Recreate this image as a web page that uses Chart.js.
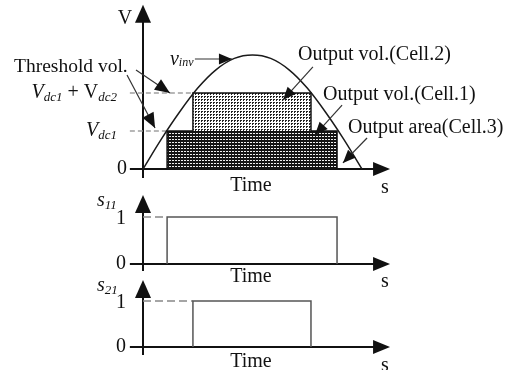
<!DOCTYPE html>
<html>
<head>
<meta charset="utf-8">
<script src="https://cdn.jsdelivr.net/npm/chart.js@4"></script>
<style>
  html, body { margin: 0; padding: 0; background: #fff; }
  #wrap { width: 508px; height: 370px; }
</style>
</head>
<body>
<div id="wrap"><canvas id="chart" width="508" height="370"></canvas></div>
<script>
/* ---------- data (time normalised to one half period) ---------- */

const VINV_TIME = [0, 0.083, 0.167, 0.25, 0.333, 0.417, 0.5, 0.583, 0.667, 0.75, 0.833, 0.917, 1];
const VINV = [0, 0.26, 0.5, 0.71, 0.87, 0.97, 1, 0.97, 0.87, 0.71, 0.5, 0.26, 0];

const VDC1 = 0.333;
const VDC1_VDC2 = 0.667;

const CELL1_TIME = [0.11, 0.11, 0.886, 0.886];
const CELL1_V = [0, VDC1, VDC1, 0];
const CELL2_TIME = [0.228, 0.228, 0.767, 0.767];
const CELL2_V = [VDC1, VDC1_VDC2, VDC1_VDC2, VDC1];

const S11_TIME = [0.11, 0.11, 0.886, 0.886];
const S11 = [0, 1, 1, 0];
const S21_TIME = [0.228, 0.228, 0.767, 0.767];
const S21 = [0, 1, 1, 0];

/* ---------- layout ---------- */

const W = 508, H = 370;
const X_ORIGIN = 143, X_UNIT = 219;          // px of t=0 and px per unit time
const PANELS = {
  y:   { zero: 169, unit: 114, top: 1.44,  bottom: -0.08 },
  s11: { zero: 264, unit: 47,  top: 1.468, bottom: -0.149 },
  s21: { zero: 347, unit: 46,  top: 1.457, bottom: -0.174 },
};
const AXIS_LEFT = -0.06, AXIS_RIGHT = 1.128;

const SERIF = '"Liberation Serif", "Times New Roman", serif';
const F_REG = `20px ${SERIF}`;
const F_IT = `italic 20px ${SERIF}`;
const F_SUB = `italic 13px ${SERIF}`;
const INK = "#111";

const r = (text) => ({ text, font: F_REG });
const it = (text) => ({ text, font: F_IT });
const sub = (text) => ({ text, font: F_SUB, dy: 5 });

const LABELS = [
  { axis: "y", t: -0.082, v: 1.316, align: "center", runs: [r("V")] },
  { axis: "y", t: -0.073, v: 0, align: "right", runs: [r("0")] },
  { axis: "y", t: -0.589, v: 0.90, align: "left", runs: [{ text: "Threshold vol.", font: `19.5px ${SERIF}` }] },
  { axis: "y", t: -0.119, v: VDC1_VDC2, align: "right", runs: [it("V"), sub("dc1"), r(" + V"), sub("dc2")] },
  { axis: "y", t: -0.119, v: VDC1, align: "right", runs: [it("V"), sub("dc1")] },
  { axis: "y", t: 0.123, v: 0.956, align: "left", runs: [it("v"), { text: "inv", font: `italic 12px ${SERIF}`, dy: 3 }] },
  { axis: "y", t: 0.708, v: 1.0, align: "left", runs: [r("Output vol.(Cell.2)")] },
  { axis: "y", t: 0.822, v: 0.649, align: "left", runs: [r("Output vol.(Cell.1)")] },
  { axis: "y", t: 0.936, v: 0.36, align: "left", runs: [r("Output area(Cell.3)")] },
  { axis: "y", t: 0.493, v: -0.149, align: "center", runs: [r("Time")] },
  { axis: "y", t: 1.105, v: -0.167, align: "center", runs: [r("s")] },

  { axis: "s11", t: -0.21, v: 1.34, align: "left", runs: [it("s"), sub("11")] },
  { axis: "s11", t: -0.078, v: 0.97, align: "right", runs: [r("1")] },
  { axis: "s11", t: -0.078, v: 0, align: "right", runs: [r("0")] },
  { axis: "s11", t: 0.493, v: -0.277, align: "center", runs: [r("Time")] },
  { axis: "s11", t: 1.105, v: -0.383, align: "center", runs: [r("s")] },

  { axis: "s21", t: -0.21, v: 1.33, align: "left", runs: [it("s"), sub("21")] },
  { axis: "s21", t: -0.078, v: 0.97, align: "right", runs: [r("1")] },
  { axis: "s21", t: -0.078, v: 0, align: "right", runs: [r("0")] },
  { axis: "s21", t: 0.493, v: -0.326, align: "center", runs: [r("Time")] },
  { axis: "s21", t: 1.105, v: -0.413, align: "center", runs: [r("s")] },
];

const POINTERS = [
  { axis: "y", from: [-0.032, 0.868], to: [0.123, 0.667], head: 15 },
  { axis: "y", from: [-0.073, 0.825], to: [0.055, 0.36], head: 15 },
  { axis: "y", from: [0.237, 0.965], to: [0.406, 0.965], head: 13 },
  { axis: "y", from: [0.776, 0.895], to: [0.639, 0.605], head: 13 },
  { axis: "y", from: [0.909, 0.561], to: [0.785, 0.298], head: 13 },
  { axis: "y", from: [1.023, 0.272], to: [0.913, 0.053], head: 13 },
];

/* ---------- helpers ---------- */

function xy(ts, vs) {
  return ts.map((t, i) => ({ x: t, y: vs[i] }));
}

function yRange(p) {
  return { min: (p.zero - H) / p.unit, max: p.zero / p.unit };
}

function makePattern(size, bg, fg, dots) {
  const c = document.createElement("canvas");
  c.width = size; c.height = size;
  const g = c.getContext("2d");
  g.fillStyle = bg; g.fillRect(0, 0, size, size);
  g.fillStyle = fg;
  dots.forEach(([x, y, w, h]) => g.fillRect(x, y, w, h));
  return g.createPattern(c, "repeat");
}

function arrowHead(ctx, x0, y0, x1, y1, len, half) {
  const a = Math.atan2(y1 - y0, x1 - x0);
  ctx.beginPath();
  ctx.moveTo(x1, y1);
  ctx.lineTo(x1 - len * Math.cos(a) + half * Math.sin(a), y1 - len * Math.sin(a) - half * Math.cos(a));
  ctx.lineTo(x1 - len * Math.cos(a) - half * Math.sin(a), y1 - len * Math.sin(a) + half * Math.cos(a));
  ctx.closePath();
  ctx.fill();
}

function drawRuns(ctx, x, y, runs, align) {
  let total = 0;
  const widths = runs.map((run) => {
    ctx.font = run.font;
    const w = ctx.measureText(run.text).width;
    total += w;
    return w;
  });
  let cx = align === "right" ? x - total : align === "center" ? x - total / 2 : x;
  runs.forEach((run, i) => {
    ctx.font = run.font;
    ctx.fillText(run.text, cx, y + (run.dy || 0));
    cx += widths[i];
  });
}

/* ---------- plugins ---------- */

const axesPlugin = {
  id: "arrowAxes",
  beforeDatasetsDraw(chart) {
    const ctx = chart.ctx;
    const xs = chart.scales.x;
    ctx.save();
    ctx.strokeStyle = INK;
    ctx.fillStyle = INK;
    ctx.lineWidth = 2;
    Object.entries(PANELS).forEach(([id, p]) => {
      const ys = chart.scales[id];
      const x0 = xs.getPixelForValue(0);
      const yTop = ys.getPixelForValue(p.top);
      const yBot = ys.getPixelForValue(p.bottom);
      const y0 = ys.getPixelForValue(0);
      const xl = xs.getPixelForValue(AXIS_LEFT);
      const xr = xs.getPixelForValue(AXIS_RIGHT);
      ctx.beginPath();
      ctx.moveTo(x0, yBot); ctx.lineTo(x0, yTop + 12);
      ctx.moveTo(xl, y0); ctx.lineTo(xr - 12, y0);
      ctx.stroke();
      arrowHead(ctx, x0, yBot, x0, yTop, 18, 8);
      arrowHead(ctx, xl, y0, xr, y0, 17, 7);
    });
    ctx.restore();
  },
};

const notesPlugin = {
  id: "notes",
  afterDatasetsDraw(chart) {
    const ctx = chart.ctx;
    const xs = chart.scales.x;
    ctx.save();
    ctx.strokeStyle = "#333";
    ctx.fillStyle = INK;
    ctx.lineWidth = 1.2;
    POINTERS.forEach((a) => {
      const ys = chart.scales[a.axis];
      const x0 = xs.getPixelForValue(a.from[0]), y0 = ys.getPixelForValue(a.from[1]);
      const x1 = xs.getPixelForValue(a.to[0]), y1 = ys.getPixelForValue(a.to[1]);
      ctx.beginPath();
      ctx.moveTo(x0, y0); ctx.lineTo(x1, y1);
      ctx.stroke();
      arrowHead(ctx, x0, y0, x1, y1, a.head, a.head * 0.42);
    });
    ctx.textBaseline = "middle";
    LABELS.forEach((l) => {
      const ys = chart.scales[l.axis];
      drawRuns(ctx, xs.getPixelForValue(l.t), ys.getPixelForValue(l.v), l.runs, l.align);
    });
    ctx.restore();
  },
};

/* ---------- chart ---------- */

// dotted fills for the two output voltage blocks
const dotsLight = makePattern(3, "#fff", "#222", [[0, 0, 2, 1], [0, 1, 1, 1]]);
const dotsDark = makePattern(3, "#141414", "#f0f0f0", [[1, 1, 1, 1], [2, 1, 1, 1]]);

const line = (extra) => Object.assign({
  type: "line", pointRadius: 0, borderWidth: 1.5, fill: false, tension: 0, clip: false,
}, extra);

new Chart(document.getElementById("chart"), {
  data: {
    datasets: [
      line({
        label: "vinv", data: xy(VINV_TIME, VINV), yAxisID: "y",
        borderColor: "#1a1a1a", cubicInterpolationMode: "monotone", order: 0,
      }),
      line({
        label: "Cell.2", data: xy(CELL2_TIME, CELL2_V), yAxisID: "y",
        borderColor: "#111", backgroundColor: dotsLight, fill: { value: VDC1 }, order: 1,
      }),
      line({
        label: "Cell.1", data: xy(CELL1_TIME, CELL1_V), yAxisID: "y",
        borderColor: "#111", backgroundColor: dotsDark, fill: "origin", order: 1,
      }),
      line({
        label: "threshold 1", data: xy([AXIS_LEFT, CELL1_TIME[0]], [VDC1, VDC1]), yAxisID: "y",
        borderColor: "#a0a0a0", borderDash: [5, 3], order: 2,
      }),
      line({
        label: "threshold 2", data: xy([AXIS_LEFT, CELL2_TIME[0]], [VDC1_VDC2, VDC1_VDC2]), yAxisID: "y",
        borderColor: "#a0a0a0", borderDash: [5, 3], order: 2,
      }),
      line({
        label: "s11", data: xy(S11_TIME, S11), yAxisID: "s11", borderColor: "#555", order: 1,
      }),
      line({
        label: "s11 off", data: xy([0, S11_TIME[0]], [1, 1]), yAxisID: "s11",
        borderColor: "#888", borderDash: [8, 4], order: 2,
      }),
      line({
        label: "s21", data: xy(S21_TIME, S21), yAxisID: "s21", borderColor: "#555", order: 1,
      }),
      line({
        label: "s21 off", data: xy([0, S21_TIME[0]], [1, 1]), yAxisID: "s21",
        borderColor: "#888", borderDash: [8, 4], order: 2,
      }),
    ],
  },
  options: {
    responsive: false,
    animation: false,
    devicePixelRatio: 1,
    layout: { padding: 0 },
    plugins: { legend: { display: false }, tooltip: { enabled: false } },
    scales: {
      x: { type: "linear", display: false, min: -X_ORIGIN / X_UNIT, max: (W - X_ORIGIN) / X_UNIT },
      y: Object.assign({ type: "linear", display: false }, yRange(PANELS.y)),
      s11: Object.assign({ type: "linear", display: false }, yRange(PANELS.s11)),
      s21: Object.assign({ type: "linear", display: false }, yRange(PANELS.s21)),
    },
  },
  plugins: [axesPlugin, notesPlugin],
});
</script>
</body>
</html>
